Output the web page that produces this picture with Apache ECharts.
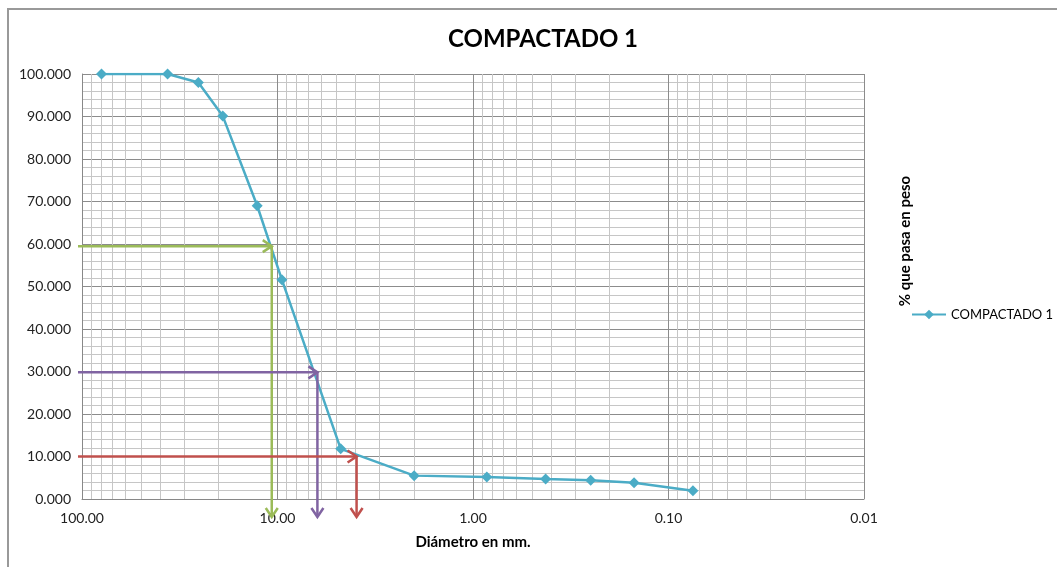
<!DOCTYPE html>
<html>
<head>
<meta charset="utf-8">
<script src="https://cdn.jsdelivr.net/npm/echarts@6/dist/echarts.min.js"></script>
<style>
html,body{margin:0;padding:0;background:#fff;}
#chart{width:1057px;height:567px;}
</style>
</head>
<body>
<div id="chart"></div>
<script>
// ---- data ----
const seriesName = 'COMPACTADO 1';
const diameters = [79.5, 36.5, 25.4, 19.05, 12.7, 9.5, 4.75, 2.0, 0.85, 0.425, 0.25, 0.15, 0.075];
const passing   = [100.0, 100.0, 98.0, 90.1, 69.0, 51.6, 11.8, 5.5, 5.2, 4.7, 4.4, 3.8, 1.95];
// reference lines (D60, D30, D10)
const refDiameters = [10.7, 6.25, 3.94];
const refPassing   = [59.5, 29.8, 10.0];
const refColors    = ['#9bbb59', '#8064a2', '#c0504d'];
// minor log gridlines
const minorGridX = [2,3,4,5,6,7,8,9, 20,30,40,50,60,70,80,90,
                    0.2,0.3,0.4,0.5,0.6,0.7,0.8,0.9,
                    0.02,0.03,0.04,0.05,0.06,0.07,0.08,0.09];
const yTickLabels = ['0.000','10.000','20.000','30.000','40.000','50.000','60.000','70.000','80.000','90.000','100.000'];

const FONT = 'Lato, "Open Sans", sans-serif';

const chart = echarts.init(document.getElementById('chart'), null, {renderer: 'canvas'});

const points = diameters.map((d, i) => [d, passing[i]]);
const refData = refDiameters.map((d, i) => ({value: [d, refPassing[i]], itemStyle: {color: refColors[i]}}));

function renderArrow(params, api) {
  const d = api.value(0), p = api.value(1);
  const color = api.visual('color');
  const corner = api.coord([d, p]);
  const left = api.coord([100, p]);
  const base = api.coord([d, 0]);
  const bottomY = base[1] + 18;
  const startX = left[0] - 4;
  const ah = 9, aw = 6;
  const style = {stroke: color, lineWidth: 2.5, fill: null};
  return {
    type: 'group',
    children: [
      {type: 'polyline', shape: {points: [[startX, corner[1]], [corner[0], corner[1]]]}, style: style},
      {type: 'polyline', shape: {points: [[corner[0] - ah, corner[1] - aw], [corner[0], corner[1]], [corner[0] - ah, corner[1] + aw]]}, style: style},
      {type: 'polyline', shape: {points: [[corner[0], corner[1]], [corner[0], bottomY]]}, style: style},
      {type: 'polyline', shape: {points: [[corner[0] - aw, bottomY - ah], [corner[0], bottomY], [corner[0] + aw, bottomY - ah]]}, style: style}
    ]
  };
}

const option = {
  backgroundColor: '#fff',
  animation: false,
  title: {
    text: 'COMPACTADO 1',
    left: 443,
    top: 22,
    textStyle: {fontFamily: FONT, fontWeight: 'bold', fontSize: 24, color: '#000'}
  },
  legend: {
    data: [seriesName],
    left: 911,
    top: 308,
    padding: 0,
    itemWidth: 34,
    itemHeight: 12,
    itemGap: 4,
    textStyle: {fontFamily: FONT, fontSize: 13, color: '#000', overflow: 'none', width: 120}
  },
  grid: {left: 82, right: 193, top: 74, bottom: 68, containLabel: false},
  xAxis: {
    type: 'log',
    logBase: 10,
    inverse: true,
    min: 0.01,
    max: 100,
    name: 'Diámetro en mm.',
    nameLocation: 'middle',
    nameGap: 36,
    nameTextStyle: {fontFamily: FONT, fontWeight: 'bold', fontSize: 15, color: '#000'},
    axisLine: {show: true, lineStyle: {color: '#888', width: 1}},
    axisTick: {show: false},
    axisLabel: {
      fontFamily: FONT, fontSize: 14, color: '#222', margin: 12,
      formatter: v => Number(v).toFixed(2)
    },
    splitLine: {show: true, lineStyle: {color: '#8c8c8c', width: 1}},
    minorTick: {show: false},
    minorSplitLine: {show: false}
  },
  yAxis: {
    type: 'value',
    min: 0,
    max: 100,
    interval: 10,
    axisLine: {show: true, lineStyle: {color: '#888', width: 1}},
    axisTick: {show: false},
    axisLabel: {
      fontFamily: FONT, fontSize: 14, color: '#222', margin: 11,
      formatter: v => yTickLabels[Math.round(v / 10)]
    },
    splitLine: {show: true, lineStyle: {color: '#8c8c8c', width: 1}},
    minorTick: {show: false, splitNumber: 5},
    minorSplitLine: {show: true, lineStyle: {color: '#c6c6c6', width: 1}}
  },
  graphic: [
    {
      type: 'rect', silent: true, z: -10,
      shape: {x: 8, y: 9, width: 1200, height: 700},
      style: {fill: null, stroke: '#999', lineWidth: 2}
    },
    {
      type: 'text', silent: true,
      x: 905, y: 241, rotation: Math.PI / 2,
      style: {text: '% que pasa en peso', fontFamily: FONT, fontSize: 15, fontWeight: 'bold',
              fill: '#000', align: 'center', verticalAlign: 'middle'}
    }
  ],
  series: [
    {
      name: 'grid-minor',
      type: 'line',
      data: [],
      z: 1,
      silent: true,
      markLine: {
        silent: true,
        symbol: 'none',
        label: {show: false},
        lineStyle: {color: '#c6c6c6', width: 1, type: 'solid'},
        emphasis: {disabled: true},
        animation: false,
        data: minorGridX.map(v => ({xAxis: v}))
      }
    },
    {
      name: seriesName,
      type: 'line',
      data: points,
      z: 5,
      color: '#4bacc6',
      symbol: 'diamond',
      symbolSize: 11,
      lineStyle: {color: '#4bacc6', width: 2.5},
      itemStyle: {color: '#4bacc6'}
    },
    {
      name: 'refs',
      type: 'custom',
      z: 6,
      clip: false,
      renderItem: renderArrow,
      encode: {x: 0, y: 1},
      data: refData
    }
  ]
};
chart.setOption(option);
</script>
</body>
</html>
